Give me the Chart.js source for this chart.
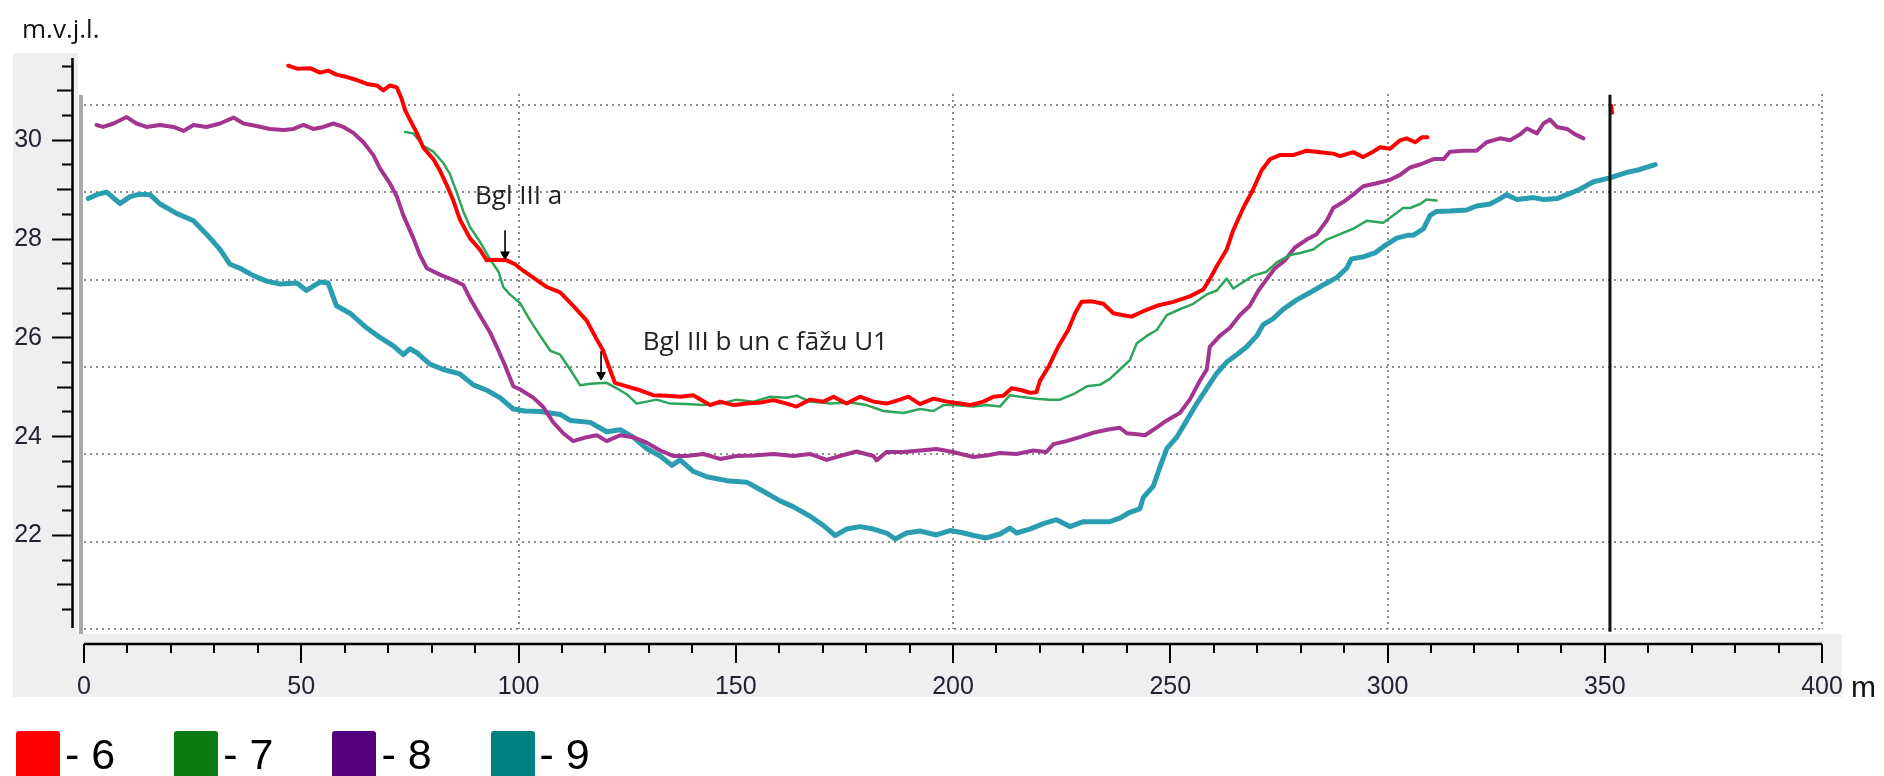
<!DOCTYPE html>
<html>
<head>
<meta charset="utf-8">
<script src="https://cdn.jsdelivr.net/npm/chart.js@4.4.1/dist/chart.umd.min.js"></script>
<style>
  html, body { margin: 0; padding: 0; background: #fff; }
  #wrap { position: relative; width: 1884px; height: 776px; overflow: hidden; }
  #legend { position: absolute; left: 16px; top: 729px; display: flex;
            font-family: "Liberation Sans", Arial, sans-serif; font-size: 43px; line-height: 50px; color: #000; }
  .item { display: flex; align-items: flex-start; margin-right: 59px; }
  .swatch { width: 44px; height: 60px; border-radius: 3px; margin-top: 2px; margin-right: 5px; }
</style>
</head>
<body>
<div id="wrap">
  <canvas id="chart" width="1884" height="776"></canvas>
  <div id="legend"></div>
</div>
<script>
// Profili 6-9: attālums (m) un augstums (m.v.j.l.), nolasīts no attēla
const seriesNames = ['6', '7', '8', '9'];
const lineColors = ['#ff0000', '#2da55a', '#a3348f', '#2a9db1'];
const legendColors = ['#ff0000', '#0b7b14', '#54007c', '#008080'];
const lineWidths = [4, 2.5, 4, 5];

const profile6 = [[47.0,31.51],[49.0,31.45],[52.0,31.46],[54.3,31.37],[56.2,31.41],[58.1,31.33],[60.5,31.28],[62.8,31.22],[65.1,31.14],[67.4,31.11],[68.9,31.01],[70.4,31.11],[72.0,31.07],[73.1,30.84],[73.9,30.61],[75.0,30.42],[76.6,30.15],[78.1,29.85],[80.4,29.62],[81.9,29.39],[83.5,29.09],[85.0,28.78],[86.5,28.40],[88.8,28.02],[91.1,27.79],[92.7,27.57],[94.6,27.58],[97.3,27.57],[99.2,27.49],[101.1,27.36],[103.4,27.22],[106.5,27.03],[109.6,26.92],[112.6,26.65],[115.7,26.35],[118.0,25.97],[119.5,25.74],[120.7,25.44],[122.2,25.09],[124.9,25.02],[128.0,24.94],[131.0,24.84],[134.1,24.83],[137.2,24.81],[140.2,24.84],[144.1,24.64],[146.4,24.71],[149.5,24.64],[152.5,24.67],[155.6,24.69],[158.7,24.74],[161.7,24.67],[164.0,24.61],[167.1,24.75],[170.2,24.71],[172.5,24.81],[175.5,24.67],[178.6,24.81],[181.7,24.71],[184.7,24.67],[187.8,24.75],[189.7,24.81],[192.4,24.66],[195.5,24.77],[198.6,24.71],[201.6,24.67],[203.9,24.64],[207.0,24.71],[209.3,24.81],[211.6,24.83],[213.5,24.98],[215.8,24.94],[217.7,24.89],[219.2,24.90],[220.0,25.13],[221.9,25.40],[224.2,25.82],[226.5,26.16],[228.1,26.50],[229.6,26.73],[231.9,26.74],[234.6,26.69],[236.9,26.50],[239.2,26.46],[241.1,26.43],[243.8,26.54],[246.9,26.65],[250.7,26.73],[254.5,26.84],[257.6,26.98],[259.1,27.19],[260.7,27.45],[263.0,27.79],[264.5,28.18],[266.8,28.63],[269.1,29.01],[271.0,29.39],[273.0,29.62],[275.2,29.70],[278.3,29.70],[281.4,29.79],[284.5,29.76],[287.5,29.73],[289.1,29.68],[292.1,29.76],[294.4,29.66],[296.7,29.77],[298.3,29.86],[300.6,29.83],[302.9,30.00],[304.4,30.04],[306.4,29.96],[307.9,30.06],[309.2,30.06],[330.0,null],[351.5,30.70],[351.7,30.56]];

const profile7 = [[73.9,30.17],[75.8,30.14],[78.1,29.89],[80.4,29.77],[82.7,29.54],[84.2,29.32],[85.8,28.94],[87.3,28.56],[88.8,28.25],[91.1,27.95],[93.4,27.60],[95.4,27.34],[96.5,27.03],[98.0,26.88],[100.4,26.70],[102.7,26.35],[105.0,26.04],[107.3,25.74],[109.6,25.66],[111.9,25.36],[114.2,25.04],[116.5,25.07],[120.3,25.09],[122.6,24.98],[124.9,24.86],[127.2,24.67],[129.5,24.71],[131.8,24.75],[134.9,24.67],[138.7,24.66],[142.5,24.64],[146.4,24.67],[150.2,24.75],[154.1,24.71],[157.9,24.81],[161.7,24.79],[164.0,24.83],[167.1,24.71],[171.7,24.67],[176.3,24.69],[180.1,24.64],[184.0,24.52],[188.6,24.48],[192.4,24.56],[195.5,24.52],[197.8,24.64],[200.1,24.64],[204.7,24.61],[207.7,24.64],[210.8,24.61],[213.1,24.84],[215.4,24.81],[219.2,24.77],[222.3,24.75],[224.6,24.75],[227.7,24.86],[230.8,25.02],[233.8,25.05],[236.1,25.17],[238.4,25.36],[240.7,25.55],[242.3,25.89],[244.6,26.04],[246.9,26.16],[249.2,26.46],[252.2,26.58],[255.3,26.69],[258.4,26.88],[260.7,26.96],[263.0,27.20],[264.5,27.00],[266.8,27.13],[269.1,27.26],[272.2,27.34],[274.5,27.53],[277.6,27.68],[279.9,27.72],[282.9,27.79],[286.0,27.99],[289.1,28.10],[292.1,28.21],[295.2,28.37],[299.0,28.33],[301.3,28.48],[303.6,28.63],[305.2,28.63],[307.5,28.71],[309.0,28.80],[311.3,28.78]];

const profile8 = [[2.9,30.31],[4.4,30.27],[6.8,30.34],[9.8,30.47],[12.1,30.34],[14.4,30.27],[17.5,30.31],[20.6,30.27],[22.9,30.19],[25.2,30.31],[28.2,30.27],[31.3,30.34],[34.4,30.46],[36.7,30.34],[39.7,30.29],[42.8,30.23],[45.9,30.21],[48.2,30.23],[50.5,30.31],[52.8,30.23],[55.1,30.27],[57.4,30.34],[59.7,30.27],[62.0,30.15],[64.3,29.96],[66.6,29.70],[68.1,29.43],[70.4,29.13],[72.0,28.86],[73.5,28.48],[75.8,28.02],[77.3,27.68],[78.9,27.41],[81.9,27.28],[85.0,27.17],[87.3,27.07],[88.8,26.81],[91.1,26.46],[93.4,26.12],[95.0,25.82],[96.9,25.44],[98.8,25.02],[100.3,24.96],[103.4,24.79],[105.7,24.60],[108.0,24.29],[110.3,24.07],[112.6,23.91],[115.7,23.99],[118.0,24.03],[120.3,23.91],[123.4,24.03],[126.4,23.99],[129.5,23.88],[132.6,23.72],[135.6,23.61],[138.7,23.61],[142.5,23.65],[146.4,23.55],[150.2,23.61],[154.1,23.62],[158.7,23.65],[163.3,23.61],[167.1,23.65],[170.9,23.53],[174.0,23.61],[177.8,23.70],[181.7,23.61],[182.4,23.52],[184.7,23.69],[188.6,23.69],[192.4,23.72],[196.2,23.75],[200.0,23.69],[204.7,23.59],[207.7,23.62],[210.8,23.67],[214.6,23.65],[218.5,23.72],[221.5,23.69],[223.1,23.85],[226.1,23.91],[229.2,23.99],[232.3,24.08],[235.4,24.14],[238.4,24.18],[240.0,24.07],[242.3,24.05],[244.2,24.03],[246.1,24.14],[249.2,24.33],[252.2,24.48],[254.5,24.75],[256.8,25.13],[258.4,25.36],[259.1,25.82],[261.4,26.04],[263.7,26.20],[266.0,26.46],[268.3,26.65],[270.3,26.96],[272.2,27.19],[274.1,27.41],[276.4,27.57],[278.7,27.83],[281.4,27.99],[283.7,28.10],[286.0,28.37],[287.5,28.63],[289.8,28.75],[292.1,28.90],[294.4,29.07],[297.5,29.13],[300.6,29.20],[302.9,29.30],[305.2,29.45],[307.5,29.51],[310.6,29.62],[312.9,29.62],[314.4,29.77],[317.5,29.79],[320.5,29.79],[322.8,29.96],[325.9,30.04],[328.2,30.00],[330.5,30.12],[332.1,30.24],[334.4,30.14],[335.9,30.34],[337.4,30.42],[339.0,30.27],[341.3,30.23],[343.2,30.12],[345.1,30.04]];

const profile9 = [[1.0,28.82],[2.9,28.90],[5.2,28.95],[8.3,28.72],[10.6,28.86],[12.9,28.91],[15.2,28.90],[17.5,28.71],[21.3,28.52],[25.2,28.37],[28.2,28.10],[31.3,27.79],[33.6,27.49],[35.9,27.41],[39.0,27.26],[42.0,27.15],[45.1,27.09],[49.0,27.11],[51.2,26.96],[54.3,27.13],[56.2,27.11],[58.1,26.65],[61.2,26.50],[65.1,26.20],[68.1,26.01],[71.2,25.84],[73.5,25.66],[75.0,25.78],[76.6,25.70],[79.6,25.47],[82.7,25.36],[86.5,25.27],[89.6,25.05],[92.7,24.94],[95.7,24.79],[98.8,24.56],[101.5,24.52],[105.0,24.51],[109.6,24.45],[111.9,24.33],[116.5,24.29],[120.3,24.10],[123.4,24.14],[126.4,23.99],[129.5,23.76],[132.6,23.61],[135.3,23.42],[137.2,23.53],[140.2,23.30],[143.3,23.19],[147.9,23.11],[152.5,23.08],[155.6,22.93],[160.2,22.70],[163.3,22.58],[167.1,22.39],[170.2,22.20],[172.9,22.00],[175.5,22.13],[178.6,22.18],[181.7,22.13],[184.7,22.05],[186.7,21.93],[189.3,22.05],[192.4,22.09],[196.2,22.01],[199.3,22.10],[202.0,22.06],[204.7,22.00],[207.7,21.95],[210.8,22.03],[213.1,22.15],[214.6,22.05],[217.7,22.13],[220.8,22.24],[223.8,22.32],[226.9,22.18],[230.0,22.28],[233.1,22.28],[236.1,22.28],[238.4,22.35],[240.7,22.47],[243.0,22.54],[243.8,22.77],[246.1,23.00],[247.6,23.38],[249.2,23.76],[251.5,23.99],[253.8,24.33],[256.1,24.67],[258.4,24.98],[260.7,25.28],[263.0,25.51],[265.3,25.66],[267.6,25.82],[269.9,26.04],[271.4,26.27],[273.7,26.39],[276.0,26.58],[279.1,26.77],[282.2,26.92],[285.2,27.07],[288.3,27.22],[290.6,27.41],[291.7,27.60],[294.4,27.64],[297.1,27.72],[299.4,27.87],[302.1,28.02],[304.8,28.08],[306.0,28.08],[308.3,28.21],[309.8,28.48],[311.3,28.56],[314.4,28.57],[318.2,28.59],[320.5,28.67],[323.6,28.71],[325.9,28.82],[327.4,28.90],[329.8,28.80],[333.6,28.84],[335.9,28.80],[339.0,28.82],[341.3,28.90],[344.3,29.01],[347.4,29.16],[351.2,29.24],[355.1,29.35],[358.1,29.41],[361.6,29.51]];

const profiles = [profile6, profile7, profile8, profile9];

// vertikālā atzīme pie ~351 m
const markerX = 351.2;
const markerY = [30.92, 20.05];

// uzraksti un bultas
const noteText = ['Bgl III a', 'Bgl III b un c fāžu U1'];
const noteX = [90.0, 128.6];
const noteY = [28.71, 25.75];
const arrowX = [96.9, 119.0];
const arrowTail = [28.18, 25.73];
const arrowHead = [27.69, 25.25];

// asis
const xLabelTicks = [0, 50, 100, 150, 200, 250, 300, 350, 400];
const xMinorStep = 10;
const xGridEvery = 100;
const yLabelTicks = [22, 24, 26, 28, 30];
const yMinorStep = 0.5;
const yTickSpan = [20.5, 31.5];
const yMin = 20.107, yMax = 31.666;
const gridRows = [0, 1, 2, 3, 4, 5, 6];
const gridMax = 6.538;

const tickFont = { family: '"Liberation Sans", Arial, sans-serif', size: 25 };
const gridColor = '#8c8c8c';

const datasets = profiles.map((p, i) => ({
  label: seriesNames[i],
  data: p.map(([x, y]) => ({ x, y })),
  borderColor: lineColors[i],
  borderWidth: lineWidths[i],
  pointRadius: 0,
  tension: 0,
  spanGaps: false,
  borderJoinStyle: 'round',
  borderCapStyle: 'round'
}));

datasets.push({
  label: 'marker',
  data: markerY.map(y => ({ x: markerX, y })),
  borderColor: '#111',
  borderWidth: 3,
  pointRadius: 0,
  clip: false,
  order: -1
});

arrowX.forEach((x, i) => {
  datasets.push({
    label: 'arrow' + i,
    data: [{ x, y: arrowTail[i] }, { x, y: arrowHead[i] }],
    borderColor: '#000',
    borderWidth: 1.6,
    pointRadius: [0, 5],
    pointStyle: 'triangle',
    rotation: 180,
    pointBackgroundColor: '#000',
    pointBorderColor: '#000',
    pointBorderWidth: 1,
    order: -2
  });
});

const frame = {
  id: 'frame',
  beforeDraw(chart) {
    const c = chart.ctx;
    c.save();
    c.fillStyle = '#fff';
    c.fillRect(0, 0, chart.width, chart.height);
    c.fillStyle = '#efefef';
    c.fillRect(13, 53, 65, 583);
    c.fillRect(13, 634, 1829, 63);
    c.restore();
  },
  beforeDatasetsDraw(chart) {
    const c = chart.ctx, a = chart.chartArea;
    c.save();
    c.fillStyle = '#fff';
    c.fillRect(a.left - 2, a.top - 4, a.right - a.left + 8, 93 - a.top + 4);
    c.fillStyle = '#a9a9a9';
    c.fillRect(79, 95, 4, 539);
    c.restore();
  },
  afterDraw(chart) {
    const c = chart.ctx;
    const { x, y } = chart.scales;
    c.save();
    c.strokeStyle = '#000';
    c.lineWidth = 2.5;
    c.beginPath();
    c.moveTo(72.5, y.getPixelForValue(yMax));
    c.lineTo(72.5, 628);
    c.moveTo(x.getPixelForValue(0), 644);
    c.lineTo(x.getPixelForValue(400), 644);
    c.stroke();

    c.fillStyle = '#111';
    c.textBaseline = 'alphabetic';
    c.font = '26px "Open Sans", "Noto Sans", sans-serif';
    c.fillText('m.v.j.l.', 22, 38);
    c.font = '30px "Liberation Sans", Arial, sans-serif';
    c.fillText('m', 1851, 697);

    c.fillStyle = '#222';
    c.font = '26px "Open Sans", "Noto Sans", sans-serif';
    noteText.forEach((t, i) => {
      c.fillText(t, x.getPixelForValue(noteX[i]), y.getPixelForValue(noteY[i]));
    });
    c.restore();
  }
};

new Chart(document.getElementById('chart'), {
  type: 'line',
  data: { datasets },
  options: {
    responsive: false,
    animation: false,
    devicePixelRatio: 1,
    layout: { padding: { top: 58, right: 62, bottom: 79, left: 0 } },
    plugins: { legend: { display: false }, tooltip: { enabled: false } },
    scales: {
      x: {
        type: 'linear', position: 'bottom', min: 0, max: 400,
        afterBuildTicks: s => {
          const t = [];
          for (let v = xLabelTicks[0]; v <= xLabelTicks[xLabelTicks.length - 1]; v += xMinorStep) t.push({ value: v });
          s.ticks = t;
        },
        afterFit: s => { s.height = 68; },
        border: { display: false, dash: [2, 4] },
        grid: {
          drawOnChartArea: true,
          color: gridColor,
          lineWidth: c => (c.tick && c.tick.value > 0 && c.tick.value % xGridEvery === 0) ? 2 : 0,
          tickLength: 34,
          tickWidth: 2,
          tickColor: '#000',
          tickBorderDash: c => xLabelTicks.includes(c.tick.value) ? [0, 15, 19, 100] : [0, 15, 9, 100]
        },
        ticks: {
          autoSkip: false, maxRotation: 0, padding: 9,
          color: '#222233', font: tickFont,
          callback: v => xLabelTicks.includes(v) ? String(v) : ''
        }
      },
      y: {
        type: 'linear', position: 'left', min: yMin, max: yMax,
        afterBuildTicks: s => {
          const t = [];
          for (let v = yTickSpan[0]; v <= yTickSpan[1]; v += yMinorStep) t.push({ value: v });
          s.ticks = t;
        },
        afterFit: s => { s.width = 84; },
        border: { display: false },
        grid: {
          drawOnChartArea: false,
          tickLength: 32,
          tickWidth: 2,
          tickColor: '#000',
          tickBorderDash: c => {
            const v = c.tick.value;
            if (v % 2 === 0) return [20, 100];
            if (v % 1 === 0) return [0, 5, 15, 100];
            return [0, 10, 10, 100];
          }
        },
        ticks: {
          autoSkip: false, padding: 10,
          color: '#222233', font: tickFont,
          callback: v => yLabelTicks.includes(v) ? String(v) : ''
        }
      },
      yg: {
        type: 'linear', position: 'right', min: 0, max: gridMax,
        afterBuildTicks: s => { s.ticks = gridRows.map(v => ({ value: v })); },
        afterFit: s => { s.width = 0; },
        border: { display: false, dash: [2, 4] },
        grid: { drawTicks: false, color: gridColor, lineWidth: 2 },
        ticks: { display: false }
      }
    }
  },
  plugins: [frame]
});

// leģenda
const legend = document.getElementById('legend');
seriesNames.forEach((name, i) => {
  const item = document.createElement('div');
  item.className = 'item';
  const sw = document.createElement('div');
  sw.className = 'swatch';
  sw.style.background = legendColors[i];
  const tx = document.createElement('span');
  tx.textContent = '- ' + name;
  item.appendChild(sw);
  item.appendChild(tx);
  legend.appendChild(item);
});
</script>
</body>
</html>
